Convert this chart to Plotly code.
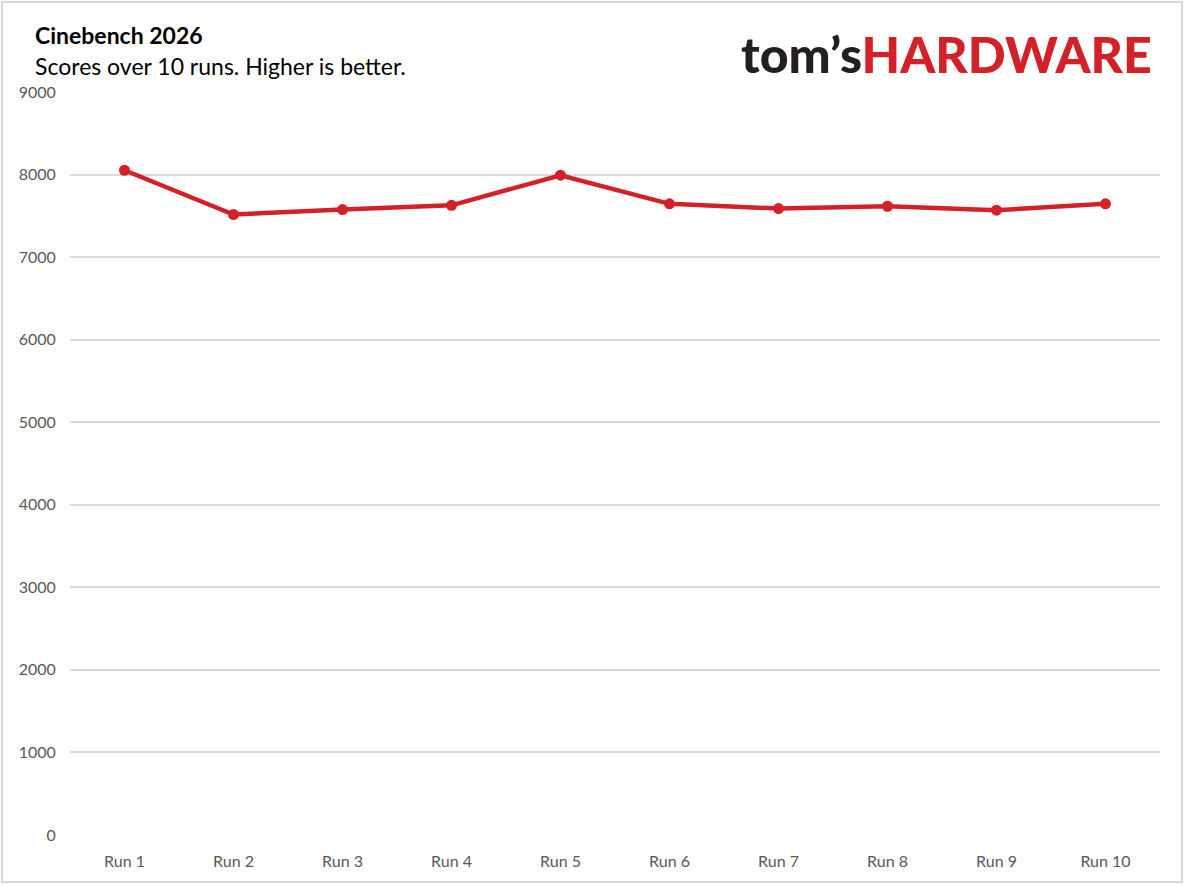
import plotly.graph_objects as go

# Cinebench 2026 scores over 10 runs
runs = ["Run 1", "Run 2", "Run 3", "Run 4", "Run 5", "Run 6", "Run 7", "Run 8", "Run 9", "Run 10"]
scores = [8052, 7516, 7576, 7627, 7992, 7645, 7588, 7616, 7568, 7645]
y_ticks = [0, 1000, 2000, 3000, 4000, 5000, 6000, 7000, 8000, 9000]

red = "#d42027"
grey_text = "#595959"
pw, ph = 1090, 743  # plot area size in px

fig = go.Figure()
fig.add_trace(go.Scatter(x=runs, y=scores, mode="lines+markers",
                         line=dict(color=red, width=4.5),
                         marker=dict(color=red, size=11),
                         showlegend=False))

fig.update_layout(
    width=1185, height=885,
    margin=dict(l=70, r=25, t=92, b=50),
    paper_bgcolor="white", plot_bgcolor="white",
    font=dict(family="Lato, Open Sans, sans-serif", color=grey_text, size=16),
    xaxis=dict(type="category", range=[-0.5, 9.5], showgrid=False, showline=False,
               ticks="outside", ticklen=12, tickcolor="white",
               tickfont=dict(size=16, color=grey_text)),
    yaxis=dict(range=[0, 9000], tickvals=y_ticks, showgrid=True,
               gridcolor="#d9d9d9", gridwidth=1.5, zeroline=False, showline=False,
               ticks="outside", ticklen=10, tickcolor="white",
               tickfont=dict(size=16, color=grey_text)),
    shapes=[dict(type="rect", xref="paper", yref="paper",
                 x0=-68 / pw, x1=1 + 22 / pw, y0=-47 / ph, y1=1 + 90 / ph,
                 line=dict(color="#d9d9d9", width=2))],
)

# Title and subtitle
fig.add_annotation(text="<b>Cinebench 2026</b>", xref="paper", yref="paper",
                   x=-37 / pw, y=1 + 57 / ph, xanchor="left", yanchor="middle",
                   showarrow=False, font=dict(size=23, color="black"))
fig.add_annotation(text="Scores over 10 runs. Higher is better.", xref="paper", yref="paper",
                   x=-37 / pw, y=1 + 26 / ph, xanchor="left", yanchor="middle",
                   showarrow=False, font=dict(size=23, color="black"))

# Logo text
fig.add_annotation(text="<span style='color:#231f20'>tom’s</span><span style='color:#d42027'>HARDWARE</span>",
                   xref="paper", yref="paper", x=1 - 6 / pw, y=1 + 38 / ph,
                   xanchor="right", yanchor="middle", showarrow=False,
                   font=dict(size=50, family="Lato, sans-serif", weight=900))

fig.write_html("out.html", config={"displayModeBar": False},
               post_script="document.body.style.margin='0';")
